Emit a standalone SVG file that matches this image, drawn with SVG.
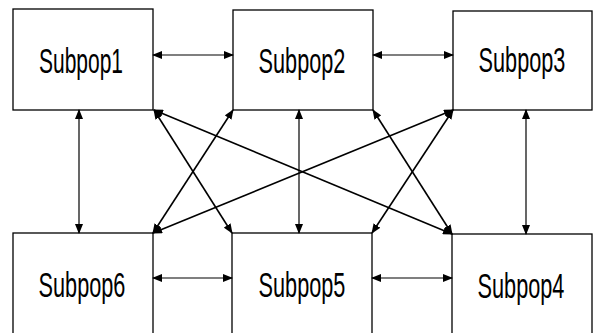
<svg xmlns="http://www.w3.org/2000/svg" width="594" height="333" viewBox="0 0 594 333">
<style>
.box{fill:#fff;stroke:#000;stroke-width:1.3}
.lbl{font-family:"Liberation Sans",Arial,sans-serif;font-size:35px;fill:#000;text-anchor:middle}
.c{stroke:#000;stroke-width:1.2;fill:none;marker-start:url(#ah);marker-end:url(#ah)}
.d{stroke-width:1.6}
</style>
<defs>
<marker id="ah" markerUnits="userSpaceOnUse" markerWidth="10" markerHeight="8" refX="9" refY="4" orient="auto-start-reverse" viewBox="0 0 10 8">
<path d="M0,0 L10,4 L0,8 Z" fill="#000"/>
</marker>
</defs>
<rect width="594" height="333" fill="#fff"/>
<g id="n1"><rect class="box" x="13" y="9" width="140" height="101"/><text class="lbl" transform="translate(81,73) scale(0.6,1)">Subpop1</text></g>
<g id="n2"><rect class="box" x="233" y="10" width="140" height="100"/><text class="lbl" transform="translate(302,73) scale(0.62,1)">Subpop2</text></g>
<g id="n3"><rect class="box" x="453" y="11" width="139" height="99"/><text class="lbl" transform="translate(522,72) scale(0.62,1)">Subpop3</text></g>
<g id="n6"><rect class="box" x="13" y="233" width="140" height="110"/><text class="lbl" transform="translate(82,297) scale(0.62,1)">Subpop6</text></g>
<g id="n5"><rect class="box" x="232" y="233" width="140" height="110"/><text class="lbl" transform="translate(302,297) scale(0.62,1)">Subpop5</text></g>
<g id="n4"><rect class="box" x="452" y="234" width="140" height="110"/><text class="lbl" transform="translate(521,298) scale(0.62,1)">Subpop4</text></g>
<g id="connectors">
<line class="c" x1="153" y1="55" x2="233" y2="55"/>
<line class="c" x1="373" y1="55" x2="453" y2="55"/>
<line class="c" x1="153" y1="278" x2="232" y2="278"/>
<line class="c" x1="372" y1="278" x2="452" y2="278"/>
<line class="c" x1="79" y1="110" x2="79" y2="233"/>
<line class="c" x1="299" y1="110" x2="299" y2="233"/>
<line class="c" x1="526" y1="110" x2="526" y2="234"/>
<line class="c d" x1="154" y1="110" x2="232" y2="233"/>
<line class="c d" x1="154" y1="110" x2="452" y2="234"/>
<line class="c d" x1="233" y1="110" x2="153" y2="233"/>
<line class="c d" x1="373" y1="110" x2="452" y2="234"/>
<line class="c d" x1="453" y1="110" x2="153" y2="233"/>
<line class="c d" x1="453" y1="110" x2="372" y2="233"/>
</g>
</svg>
